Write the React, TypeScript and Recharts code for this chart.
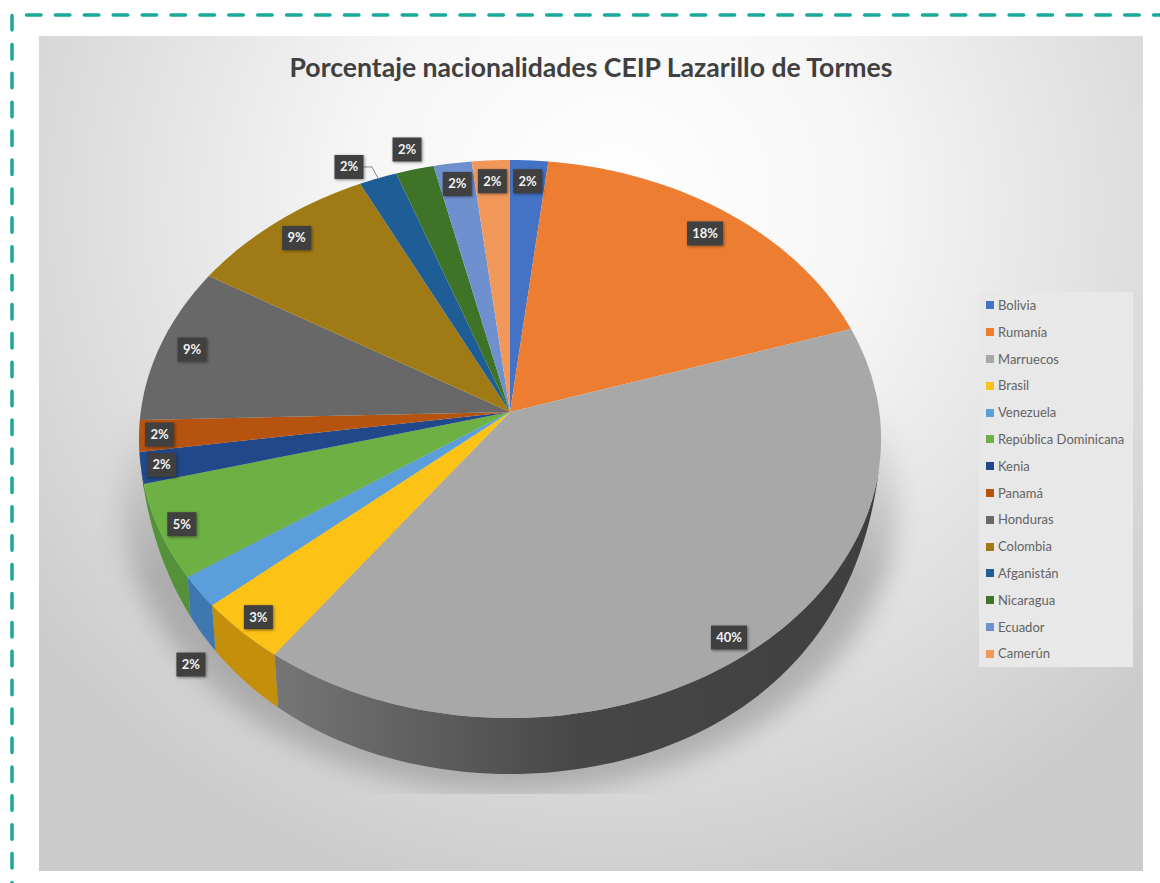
import React from 'react';
import { PieChart, Pie, Legend } from 'recharts';

const countries = ['Bolivia', 'Rumanía', 'Marruecos', 'Brasil', 'Venezuela', 'República Dominicana', 'Kenia', 'Panamá', 'Honduras', 'Colombia', 'Afganistán', 'Nicaragua', 'Ecuador', 'Camerún'];
const students = [1, 10, 22, 2, 1, 3, 1, 1, 5, 5, 1, 1, 1, 1];
const percentLabels = ['2%', '18%', '40%', '3%', '2%', '5%', '2%', '2%', '9%', '9%', '2%', '2%', '2%', '2%'];
const topColors = ['#4472c4', '#ed7d31', '#a8a8a8', '#fcc316', '#5a9fdb', '#6db044', '#21488a', '#b5530f', '#686868', '#a07a14', '#1f5d96', '#3f7328', '#6f90cf', '#f1975a'];
const wallColors = ['#2f5597', '#b85f22', 'url(#wallGrey)', '#c4900c', '#3f78b0', '#54913a', '#1a3055', '#6f320a', '#454545', '#6b5000', '#1a4266', '#2f491e', '#4a6492', '#a96a3f'];

// how far out along the slice each label sits, 1 = rim
const labelRadius = [0.91, 0.89, 0.935, 0.94, 1.1, 0.94, 0.945, 0.945, 0.91, 0.91, 1.1, 1.09, 0.91, 0.91];
const labelNudge: Record<number, [number, number]> = { 4: [25, 54], 10: [-17, 10] };

const chartData = countries.map((name, i) => ({ name, value: students[i], top: topColors[i], wall: wallColors[i] }));

const RAD = Math.PI / 180;
const APEX_X = 510;
const APEX_Y = 412;
const SIZE_X = 369.3;
const SIZE_Y = 276.4;
const TILT = -0.0968;
const DEPTH = 56;

// tilted disc: maps a point of the unit circle to the page, apex stays off the ellipse centre
const project = (ux: number, uy: number) => {
    const w = 1 + TILT * uy;
    return { x: APEX_X + (SIZE_X * ux) / w, y: APEX_Y + (SIZE_Y * uy) / w };
};

const rimPoint = (clock: number, f = 1) => project(f * Math.sin(clock * RAD), -f * Math.cos(clock * RAD));

// clockwise degrees from 12 o'clock
const toClock = (angle: number) => 90 - angle;

const arcPoints = (from: number, to: number) => {
    const pts = [];
    const n = Math.max(2, Math.ceil((to - from) / 1.5));
    for (let i = 0; i <= n; i++) pts.push(from + ((to - from) * i) / n);
    return pts;
};

const TopSlice = (props: any) => {
    const from = toClock(props.startAngle);
    const to = toClock(props.endAngle);
    const d = arcPoints(from, to).map(a => rimPoint(a)).map(p => `L${p.x},${p.y}`).join(' ');
    return <path d={`M${APEX_X},${APEX_Y} ${d} Z`} fill={props.top} />;
};

const wallPoint = (clock: number) => {
    const p = rimPoint(clock);
    const uy = -Math.cos(clock * RAD);
    const t = Math.min(1, Math.max(0, (uy - 0.2) / 0.8));
    const drop = DEPTH * (1 - (1 - t) * (1 - t));
    return { x: APEX_X + (p.x - APEX_X) * (1 - 0.02 * t), y: p.y + drop };
};

const WallSlice = (props: any) => {
    const from = toClock(props.startAngle);
    const to = toClock(props.endAngle);
    const angles = arcPoints(from, to).filter(a => -Math.cos(a * RAD) > 0.15);
    if (angles.length < 2) return <g />;
    const upper = angles.map(a => rimPoint(a));
    const lower = angles.map(a => wallPoint(a)).reverse();
    const d = [...upper, ...lower].map((p, i) => `${i ? 'L' : 'M'}${p.x},${p.y}`).join(' ');
    return <path d={`${d} Z`} fill={props.wall} />;
};

const SliceLabel = (props: any) => {
    const i = props.index;
    const clock = toClock(props.midAngle);
    const nudge = labelNudge[i] || [0, 0];
    const p = rimPoint(clock, labelRadius[i]);
    const x = p.x + nudge[0];
    const y = p.y + nudge[1];
    const text = percentLabels[i];
    const w = text.length > 2 ? 36 : 29;
    const rim = rimPoint(clock);
    return (
        <g>
            {i === 10 && <path d={`M${x + w / 2},${y} L${rim.x - 6},${y} L${rim.x},${rim.y}`} fill="none" stroke="#8a8a8a" strokeWidth={1} />}
            <rect x={x - w / 2} y={y - 12} width={w} height={24} fill="#404040" filter="url(#labelShadow)" />
            <text x={x} y={y + 4.5} textAnchor="middle" fontFamily="Lato" fontWeight={700} fontSize={13} fill="#f2f2f2">{text}</text>
        </g>
    );
};

const LegendBox = (props: any) => (
    <div style={{ width: 154, height: 375, background: '#e8e8e8', boxSizing: 'border-box', padding: '0 0 0 7px' }}>
        {props.payload.filter((e: any) => e.type !== 'none').map((e: any, i: number) => (
            <div key={i} style={{ height: 26.8, lineHeight: '26.8px', display: 'flex', alignItems: 'center', fontFamily: 'Lato', fontSize: 13, color: '#636363', whiteSpace: 'nowrap' }}>
                <span style={{ width: 8, height: 8, background: topColors[i], marginRight: 4 }} />
                {e.value}
            </div>
        ))}
    </div>
);

const dashes = { stroke: '#17a999', strokeWidth: 3.5, strokeDasharray: '14.5 14.4', strokeLinecap: 'round' as const };

export default function App() {
    return (
        <div style={{ position: 'absolute', left: 0, top: 0, width: 1160, height: 883, background: '#ffffff', overflow: 'hidden' }}>
            <svg width={1160} height={883} style={{ position: 'absolute', left: 0, top: 0 }}>
                <line x1={26.5} y1={15} x2={1160} y2={15} {...dashes} />
                <line x1={12} y1={15.5} x2={12} y2={883} {...dashes} />
            </svg>
            <div style={{ position: 'absolute', left: 39, top: 36, width: 1104, height: 835, background: 'radial-gradient(ellipse 66% 86% at 52% 20%, #ffffff 0%, #f6f6f6 35%, #dfdfdf 70%, #cbcbcb 100%)' }} />
            <div style={{ position: 'absolute', left: 0, top: 0 }}>
                <PieChart width={1160} height={883} margin={{ top: 0, right: 0, bottom: 0, left: 0 }}>
                    <defs>
                        <linearGradient id="wallGrey" x1="0" y1="0" x2="1" y2="0">
                            <stop offset="0" stopColor="#767676" />
                            <stop offset="0.5" stopColor="#474747" />
                            <stop offset="1" stopColor="#3f3f3f" />
                        </linearGradient>
                        <filter id="labelShadow" x="-30%" y="-30%" width="160%" height="160%">
                            <feDropShadow dx={1} dy={1} stdDeviation={1.5} floodColor="#000000" floodOpacity={0.45} />
                        </filter>
                        <filter id="floorBlur" x="-20%" y="-20%" width="140%" height="140%">
                            <feGaussianBlur stdDeviation={13} />
                        </filter>
                        <linearGradient id="floorFade" x1="0" y1="0" x2="0" y2="1">
                            <stop offset="0" stopColor="#000000" />
                            <stop offset="0.45" stopColor="#ffffff" />
                            <stop offset="1" stopColor="#ffffff" />
                        </linearGradient>
                        <mask id="floorMask" maskUnits="userSpaceOnUse" x={90} y={400} width={850} height={394}>
                            <rect x={90} y={400} width={850} height={394} fill="url(#floorFade)" />
                        </mask>
                    </defs>
                    <g mask="url(#floorMask)">
                        <ellipse cx={510} cy={500} rx={388} ry={292} fill="#8f8f8f" opacity={0.6} filter="url(#floorBlur)" />
                    </g>
                    <text x={591} y={77} textAnchor="middle" fontFamily="Lato" fontWeight={700} fontSize={26.6} fill="#404040">Porcentaje nacionalidades CEIP Lazarillo de Tormes</text>
                    <Pie data={chartData} dataKey="value" nameKey="name" cx={APEX_X} cy={APEX_Y} outerRadius={300} startAngle={90} endAngle={-270} shape={WallSlice} legendType="none" label={false} labelLine={false} stroke="none" isAnimationActive={false} />
                    <Pie data={chartData} dataKey="value" nameKey="name" cx={APEX_X} cy={APEX_Y} outerRadius={300} startAngle={90} endAngle={-270} shape={TopSlice} label={SliceLabel} labelLine={false} stroke="none" isAnimationActive={false} />
                    <Legend layout="vertical" content={LegendBox} itemSorter={null} wrapperStyle={{ left: 979, top: 292, width: 154, height: 375 }} />
                </PieChart>
            </div>
        </div>
    );
}
